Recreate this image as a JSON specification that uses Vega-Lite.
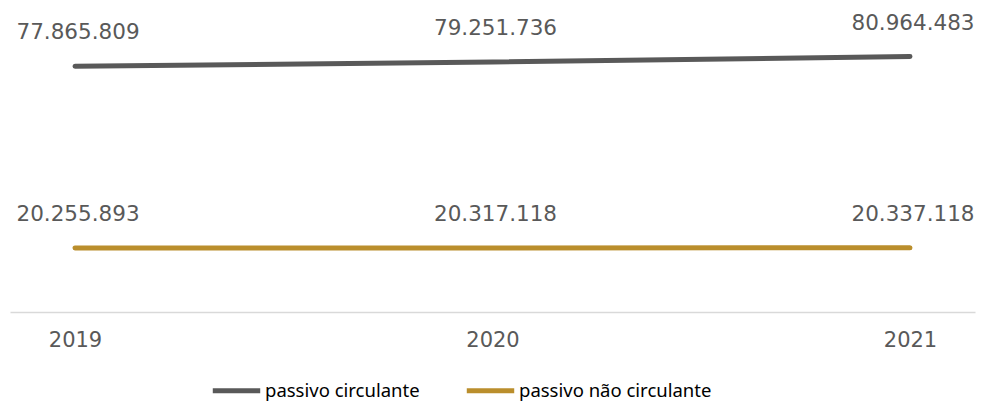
{
  "$schema": "https://vega.github.io/schema/vega-lite/v6.json",
  "width": 965,
  "height": 284,
  "autosize": {"type": "none"},
  "padding": {"left": 10, "top": 28, "right": 6, "bottom": 91},
  "background": "white",
  "config": {"view": {"stroke": null}},
  "data": {
    "values": [
      {"ano": "2019", "serie": "passivo circulante", "valor": 77865809, "rotulo": "77.865.809"},
      {"ano": "2020", "serie": "passivo circulante", "valor": 79251736, "rotulo": "79.251.736"},
      {"ano": "2021", "serie": "passivo circulante", "valor": 80964483, "rotulo": "80.964.483"},
      {"ano": "2019", "serie": "passivo não circulante", "valor": 20255893, "rotulo": "20.255.893"},
      {"ano": "2020", "serie": "passivo não circulante", "valor": 20317118, "rotulo": "20.317.118"},
      {"ano": "2021", "serie": "passivo não circulante", "valor": 20337118, "rotulo": "20.337.118"}
    ]
  },
  "encoding": {
    "x": {
      "field": "ano", "type": "ordinal",
      "scale": {"type": "point", "padding": 0.1557},
      "axis": {
        "title": null, "labelAngle": 0, "ticks": false, "grid": false,
        "domainColor": "#d9d9d9", "domainWidth": 1.5,
        "labelFont": "DejaVu Sans", "labelFontSize": 21, "labelColor": "#595959",
        "labelPadding": 17
      }
    },
    "y": {
      "field": "valor", "type": "quantitative",
      "scale": {"domain": [0, 90000000]},
      "axis": null
    },
    "color": {
      "field": "serie", "type": "nominal",
      "scale": {"domain": ["passivo circulante", "passivo não circulante"], "range": ["#595959", "#BA8E2C"]},
      "legend": {
        "title": null, "orient": "none", "direction": "horizontal",
        "legendX": 200, "legendY": 336,
        "symbolType": "stroke", "symbolSize": 2250, "symbolStrokeWidth": 5,
        "labelFont": "Noto Sans", "labelFontSize": 18.5, "labelColor": "#000000",
        "labelLimit": 400, "labelOffset": 2, "columnPadding": 36
      }
    }
  },
  "layer": [
    {"mark": {"type": "line", "strokeWidth": 5, "strokeCap": "round"}},
    {
      "mark": {"type": "text", "font": "DejaVu Sans", "fontSize": 21.5, "baseline": "middle", "dy": -33, "dx": 3},
      "encoding": {"text": {"field": "rotulo"}, "color": {"value": "#595959"}}
    }
  ]
}
